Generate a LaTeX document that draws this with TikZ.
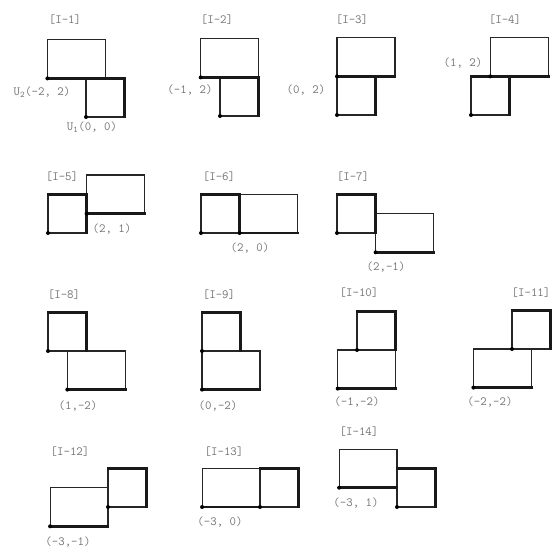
\documentclass[tikz,border=0pt]{standalone}
\usepackage{fontspec}
\begin{document}
\begin{tikzpicture}[x=1pt,y=-1pt,
  thinline/.style={draw=black!85,line width=1.2pt},
  thickline/.style={draw=black!90,line width=2.6pt,line cap=rect},
  lab/.style={text=black!55,font=\fontsize{12.5}{14}\selectfont\ttfamily,inner sep=0pt},
  dotc/.style={fill=black}]
\useasboundingbox (0,0) rectangle (553,553);
\newcommand{\pairfig}[4]{%
 \begin{scope}[shift={(#1,#2)},x=19.3pt,y=19.3pt]
  \draw[thinline] (0,0) rectangle (2,2);
  \draw[thinline] (#3,#4) rectangle ++(3,2);
  \draw[thickline] (0,2) -- (2,2) -- (2,0);
  \draw[thickline] (#3,#4) -- ++(3,0);
  \fill[dotc] (0,0) circle[radius=2pt];
  \fill[dotc] (#3,#4) circle[radius=2pt];
 \end{scope}}
% figures
\pairfig{86}{117}{-2}{2}
\pairfig{220}{116}{-1}{2}
\pairfig{337}{115}{0}{2}
\pairfig{471}{115}{1}{2}
\pairfig{48}{233}{2}{1}
\pairfig{201}{233}{2}{0}
\pairfig{337}{233}{2}{-1}
\pairfig{48}{351}{1}{-2}
\pairfig{202}{351}{0}{-2}
\pairfig{357}{350}{-1}{-2}
\pairfig{512}{349}{-2}{-2}
\pairfig{108}{507}{-3}{-1}
\pairfig{260}{507}{-3}{0}
\pairfig{397}{507}{-3}{1}
% titles
\node[lab] (t1) at (65,20) {[I-1]};
\node[lab] (t2) at (217,20) {[I-2]};
\node[lab] (t3) at (352,20) {[I-3]};
\node[lab] (t4) at (505,20) {[I-4]};
\node[lab] (t5) at (62,177) {[I-5]};
\node[lab] (t6) at (219,177) {[I-6]};
\node[lab] (t7) at (353,177) {[I-7]};
\node[lab] (t8) at (64,295) {[I-8]};
\node[lab] (t9) at (219,295) {[I-9]};
\node[lab] (t10) at (359,293) {[I-10]};
\node[lab] (t11) at (531,293) {[I-11]};
\node[lab] (t12) at (70,452) {[I-12]};
\node[lab] (t13) at (224,452) {[I-13]};
\node[lab] (t14) at (359,432) {[I-14]};
% coordinate labels
\node[lab] (l1a) at (42,92) {U\textsubscript{2}(-2, 2)};
\node[lab] (l1b) at (92,127) {U\textsubscript{1}(0, 0)};
\node[lab] (l2) at (190,90) {(-1, 2)};
\node[lab] (l3) at (306,90) {(0, 2)};
\node[lab] (l4) at (463,63) {(1, 2)};
\node[lab] (l5) at (112,229) {(2, 1)};
\node[lab] (l6) at (250,248) {(2, 0)};
\node[lab] (l7) at (386,267) {(2,-1)};
\node[lab] (l8) at (78,406) {(1,-2)};
\node[lab] (l9) at (218,406) {(0,-2)};
\node[lab] (l10) at (357,402) {(-1,-2)};
\node[lab] (l11) at (490,402) {(-2,-2)};
\node[lab] (l12) at (68,542) {(-3,-1)};
\node[lab] (l13) at (220,522) {(-3, 0)};
\node[lab] (l14) at (356,503) {(-3, 1)};
\end{tikzpicture}
\end{document}
